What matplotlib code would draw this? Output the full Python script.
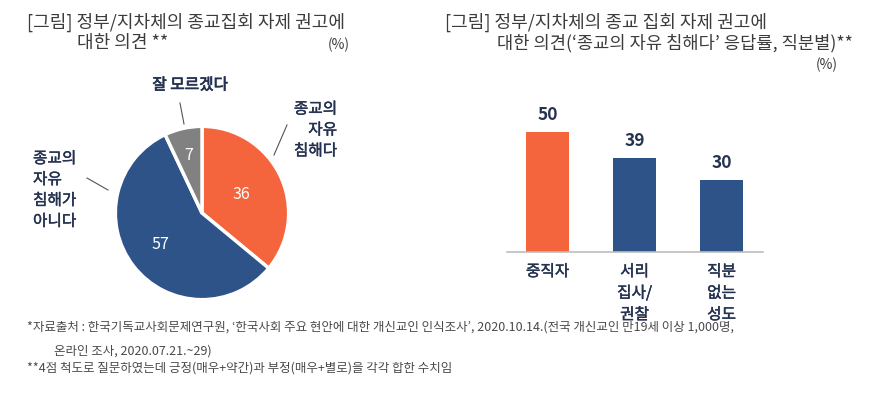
import matplotlib
matplotlib.use("Agg")
import matplotlib.pyplot as plt
from matplotlib.lines import Line2D
import matplotlib.patheffects as pe
import numpy as np

plt.rcParams['font.family'] = ['Noto Sans CJK KR', 'DejaVu Sans']

# ---- data ----
pie_labels = ["종교의\n자유\n침해다", "종교의\n자유\n침해가\n아니다", "잘 모르겠다"]
pie_values = [36, 57, 7]
bar_categories = ["중직자", "서리\n집사/\n권찰", "직분\n없는\n성도"]
bar_values = [50, 39, 30]

ORANGE = "#F4653D"
BLUE = "#2E5389"
GRAY = "#818181"
NAVY = "#243250"
TITLE = "#3C3C3C"

W, H = 875, 396
fig = plt.figure(figsize=(W / 100, H / 100), dpi=100)
fig.patch.set_facecolor("white")


def fx(x):
    return x / W


def fy(y):
    return 1 - y / H


def ftext(x, y, s, **kw):
    return fig.text(fx(x), fy(y), s, **kw)


MED = [pe.withStroke(linewidth=0.3, foreground=NAVY)]
MED2 = [pe.withStroke(linewidth=0.5, foreground=NAVY)]

# ---- pie ----
cx, cy, r = 202, 213, 91
axp = fig.add_axes([fx(cx - r), fy(cy + r), 2 * r / W, 2 * r / H])
wedges, _ = axp.pie(pie_values, colors=[ORANGE, BLUE, GRAY], startangle=90,
                    counterclock=False, radius=1,
                    wedgeprops=dict(edgecolor="white", linewidth=2.5))
axp.set_xlim(-1.05, 1.05)
axp.set_ylim(-1.05, 1.05)
axp.set_aspect("equal")
axp.axis("off")
inner_r = [0.5, 0.6, 0.68]
for w, v, rr in zip(wedges, pie_values, inner_r):
    ang = np.deg2rad((w.theta1 + w.theta2) / 2)
    axp.text(rr * np.cos(ang), rr * np.sin(ang), str(v), ha="center", va="center",
             color="white", fontsize=11.5)

# pie labels
ftext(337, 130, pie_labels[0], ha="right", va="center", color=NAVY, fontsize=11.3,
      linespacing=1.3, path_effects=MED)
ftext(33, 190, pie_labels[1], ha="left", va="center", color=NAVY, fontsize=11.3,
      linespacing=1.3, path_effects=MED)
ftext(190, 85, pie_labels[2], ha="center", va="center", color=NAVY, fontsize=11.3,
      path_effects=MED2)

for (x0, y0, x1, y1) in [(180, 103, 184, 124), (287, 125, 274, 155), (87, 178, 108, 190)]:
    fig.add_artist(Line2D([fx(x0), fx(x1)], [fy(y0), fy(y1)], color="#555555", lw=0.8))

# ---- bars ----
base_y = 252
ppu = 2.4
ymax = 60
axb = fig.add_axes([fx(507), fy(base_y), 256 / W, ymax * ppu / H])
x = np.arange(len(bar_values))
axb.bar(x, bar_values, width=0.494, color=[ORANGE, BLUE, BLUE])
axb.set_xlim(-0.466, 2.477)
axb.set_ylim(0, ymax)
for s in ["top", "right", "left"]:
    axb.spines[s].set_visible(False)
axb.spines["bottom"].set_color("#BDBDBD")
axb.spines["bottom"].set_linewidth(1.2)
axb.set_yticks([])
axb.set_xticks(x)
labels = axb.set_xticklabels(bar_categories, fontsize=11.3, color=NAVY, linespacing=1.35,
                             va="top")
for t in labels:
    t.set_path_effects(MED)
axb.tick_params(axis="x", length=0, pad=8)
for xi, v in zip(x, bar_values):
    axb.annotate(str(v), (xi, v), xytext=(0, 6), textcoords="offset points",
                 ha="center", va="bottom", fontsize=12.5, fontweight="bold", color=NAVY)

# ---- titles ----
ftext(27, 22, "[그림] 정부/지차체의 종교집회 자제 권고에", ha="left", va="center",
      fontsize=13, color=TITLE)
ftext(77, 43, "대한 의견 **", ha="left", va="center", fontsize=13, color=TITLE)
ftext(339, 45, "(%)", ha="center", va="center", fontsize=10, color=TITLE)

ftext(445, 22, "[그림] 정부/지차체의 종교 집회 자제 권고에", ha="left", va="center",
      fontsize=13, color=TITLE)
ftext(497, 43, "대한 의견(‘종교의 자유 침해다’ 응답률, 직분별)**", ha="left", va="center",
      fontsize=12.7, color=TITLE)
ftext(827, 65, "(%)", ha="center", va="center", fontsize=10, color=TITLE)

# ---- footnotes ----
FN = "#4A4A4A"
ftext(27, 327, "*자료출처 : 한국기독교사회문제연구원, ‘한국사회 주요 현안에 대한 개신교인 인식조사’, 2020.10.14.(전국 개신교인 만19세 이상 1,000명,",
      ha="left", va="center", fontsize=9, color=FN)
ftext(54, 351, "온라인 조사, 2020.07.21.~29)", ha="left", va="center", fontsize=9, color=FN)
ftext(27, 368, "**4점 척도로 질문하였는데 긍정(매우+약간)과 부정(매우+별로)을 각각 합한 수치임",
      ha="left", va="center", fontsize=9, color=FN)

fig.savefig("out.png", dpi=100, facecolor="white")
